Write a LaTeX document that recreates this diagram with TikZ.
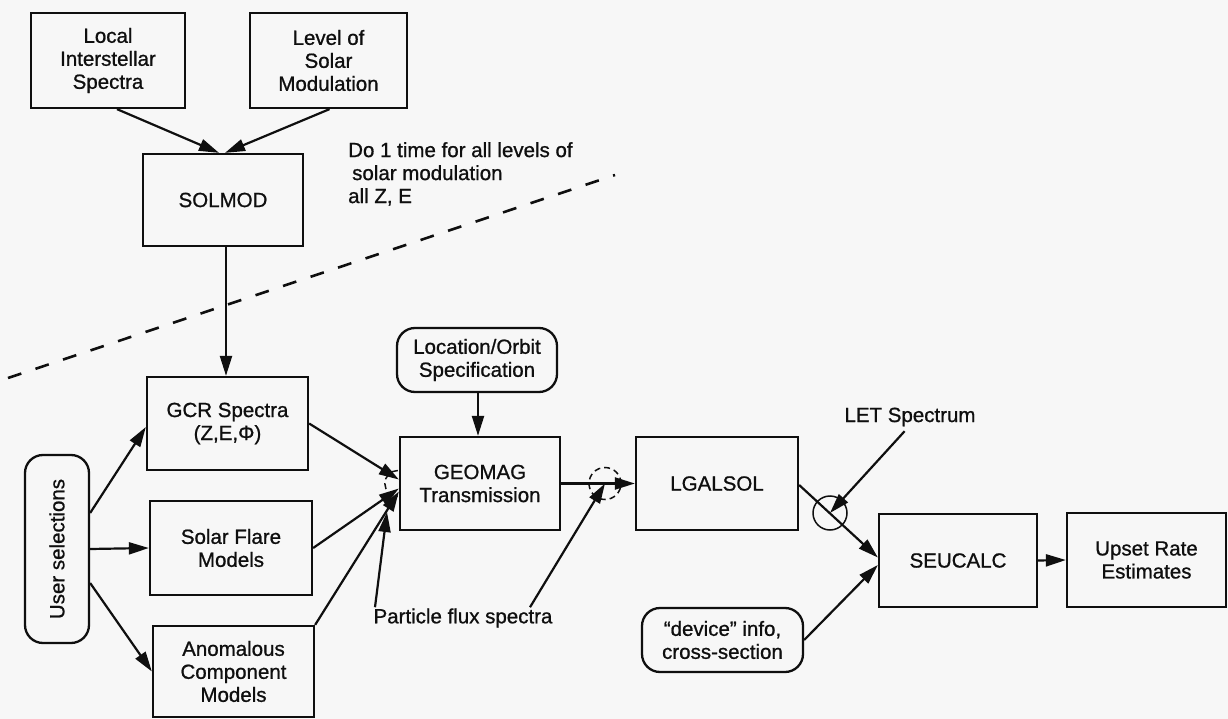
\documentclass[tikz,border=0pt]{standalone}
\usepackage{fontspec}
\setmainfont{Liberation Sans}[BoldFont=Liberation Sans,BoldFeatures={FakeBold=0.9}]
\usetikzlibrary{arrows.meta,calc}
\definecolor{paper}{RGB}{247,247,247}
\definecolor{ink}{RGB}{15,15,15}
\newcommand{\dgfont}{\fontsize{20.5}{23}\selectfont\bfseries}
\tikzset{
  blk/.style={draw=ink,line width=2.3pt,align=center,inner sep=2pt,font=\dgfont,text=ink},
  rblk/.style={blk,rounded corners=18pt},
  lbl/.style={align=left,font=\dgfont,text=ink,inner sep=1pt},
  arr/.style={-{Triangle[length=20pt,width=12pt]},line width=2.2pt,draw=ink},
  jn/.style={circle,draw=ink,line width=1.5pt,minimum size=#1,inner sep=0pt},
  jn/.default=32pt,
}

\begin{document}
\begin{tikzpicture}[x=1pt,y=-1pt]
 \fill[paper] (0,0) rectangle (1228,719);
 \useasboundingbox (0,0) rectangle (1228,719);
 % inputs to the solar modulation step
 \node[blk,minimum width=154pt,minimum height=95pt] (lis) at (108,60.5) {Local\\Interstellar\\Spectra};
 \node[blk,minimum width=157pt,minimum height=95pt] (lsm) at (328.5,60.5) {Level of\\Solar\\Modulation};
 \node[blk,minimum width=160pt,minimum height=92pt] (solmod) at (223,200) {SOLMOD};
 \node[lbl,anchor=north west] (once) at (347,141) {Do 1 time for all levels of\\\hspace*{4pt}solar modulation\\all Z, E};
 \draw[ink,line width=2.6pt,dash pattern=on 14pt off 15pt] (8,378) -- (615,175);
 % spectra models
 \node[rblk,rotate=90,minimum width=188pt,minimum height=64pt] (user) at (57,549) {User selections};
 \node[blk,minimum width=161pt,minimum height=93pt] (gcr) at (227.5,423.5) {GCR Spectra\\(Z,E,Φ)};
 \node[blk,minimum width=162pt,minimum height=94pt] (flare) at (231,548) {Solar Flare\\Models};
 \node[blk,minimum width=161pt,minimum height=91pt] (anom) at (233.5,671.5) {Anomalous\\Component\\Models};
 % transport chain
 \node[rblk,minimum width=160pt,minimum height=64pt] (loc) at (477,360) {Location/Orbit\\Specification};
 \node[blk,minimum width=160pt,minimum height=93pt] (geomag) at (480,483.5) {GEOMAG\\Transmission};
 \node[blk,minimum width=162pt,minimum height=93pt] (lgalsol) at (717,483.5) {LGALSOL};
 \node[blk,minimum width=158pt,minimum height=93pt] (seucalc) at (958,560.5) {SEUCALC};
 \node[blk,minimum width=159pt,minimum height=94pt] (upset) at (1146.5,560) {Upset Rate\\Estimates};
 \node[rblk,minimum width=161pt,minimum height=64pt] (device) at (722.5,640) {“device” info,\\cross-section};
 \node[lbl] (pfs) at (463,618) {Particle flux spectra};
 \node[lbl] (let) at (910,417) {LET Spectrum};
 % junction marks
 \node[jn,dashed,dash pattern=on 6pt off 4pt] (j1) at (605,483.5) {};
 \node[jn=34pt] (j2) at (830,513) {};
 \coordinate (gjoin) at ([xshift=-1pt]geomag.west);
 \coordinate (pjoin) at (387,512);
 \draw[ink,line width=1.5pt,dash pattern=on 6pt off 4pt] ([yshift=13pt]gjoin) arc[start angle=90,end angle=270,radius=13pt];
 % connectors
 \draw[arr] ([xshift=9pt]lis.south) -- ([xshift=-4pt]solmod.north);
 \draw[arr] ([xshift=1pt]lsm.south) -- ([xshift=2pt]solmod.north);
 \draw[arr] ([xshift=3pt]solmod.south) -- ([xshift=3pt]solmod.south |- gcr.north);
 \draw[arr] ([yshift=36pt]user.south) -- ([yshift=-3.5pt]gcr.west);
 \draw[arr] (user.south) -- (flare.west);
 \draw[arr] ([yshift=-34pt]user.south) -- (anom.west);
 \draw[arr] (gcr.east) -- ([yshift=4pt]geomag.west);
 \draw[arr] (flare.east) -- ([yshift=-5pt]geomag.west);
 \draw[arr] (anom.north east) -- ([yshift=-8pt]geomag.west);
 \draw[arr] ([xshift=-88pt]pfs.north) -- (pjoin);
 \draw[arr] ([xshift=67pt]pfs.north) -- (j1.center);
 \draw[arr] ([xshift=1pt]loc.south) -- ([xshift=1pt]loc.south |- geomag.north);
 \draw[arr] (geomag.east) -- (lgalsol.west);
 \draw[arr] ([yshift=-1.5pt]lgalsol.east) -- ([yshift=3pt]seucalc.west);
 \draw[arr,shorten <=5pt] ([xshift=-2pt]let.south) -- (j2.center);
 \draw[arr] (device.east) -- ([yshift=-4.5pt]seucalc.west);
 \draw[arr] (seucalc.east) -- (upset.west);
\end{tikzpicture}
\end{document}
